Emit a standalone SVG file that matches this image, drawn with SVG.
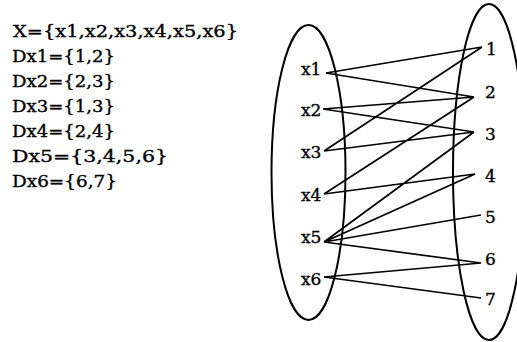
<svg xmlns="http://www.w3.org/2000/svg" width="517" height="342" viewBox="0 0 517 342">
<style>
text{font-family:"DejaVu Serif","Liberation Serif",serif;font-size:17px;fill:#000;stroke:#000;stroke-width:0.35}
.set{fill:none;stroke:#000;stroke-width:2}
.e{stroke:#000;stroke-width:1.7;fill:none}
</style>
<rect width="517" height="342" fill="#fff"/>
<g id="defs-text">
<text x="13" y="37" textLength="225" lengthAdjust="spacingAndGlyphs">X={x1,x2,x3,x4,x5,x6}</text>
<text x="12" y="62" textLength="103" lengthAdjust="spacingAndGlyphs">Dx1={1,2}</text>
<text x="12" y="87" textLength="103" lengthAdjust="spacingAndGlyphs">Dx2={2,3}</text>
<text x="12" y="112" textLength="103" lengthAdjust="spacingAndGlyphs">Dx3={1,3}</text>
<text x="12" y="137" textLength="103" lengthAdjust="spacingAndGlyphs">Dx4={2,4}</text>
<text x="12" y="162" textLength="156" lengthAdjust="spacingAndGlyphs">Dx5={3,4,5,6}</text>
<text x="12" y="187" textLength="105" lengthAdjust="spacingAndGlyphs">Dx6={6,7}</text>
</g>
<g id="setX"><ellipse class="set" cx="308.5" cy="172.5" rx="37" ry="147.5"/></g>
<g id="setD"><ellipse class="set" cx="489" cy="172" rx="36" ry="168"/></g>
<g id="connectors">
<path class="e" d="M326,73L482,47M326,73L474,97M323,109L474,97M323,109L474,132M324,151L482,47M324,151L474,132M324,194L474,97M324,194L475,174M324,242L474,132M324,242L475,174M324,242L481,215M324,242L481,263M324,277L481,263M324,277L481,298"/>
</g>
<g id="x1"><text x="301" y="75">x1</text></g>
<g id="x2"><text x="301" y="116">x2</text></g>
<g id="x3"><text x="301" y="158">x3</text></g>
<g id="x4"><text x="301" y="201">x4</text></g>
<g id="x5"><text x="301" y="243">x5</text></g>
<g id="x6"><text x="301" y="285">x6</text></g>
<g id="n1"><text x="486" y="55">1</text></g>
<g id="n2"><text x="485" y="98">2</text></g>
<g id="n3"><text x="485" y="140">3</text></g>
<g id="n4"><text x="485" y="182">4</text></g>
<g id="n5"><text x="485" y="223">5</text></g>
<g id="n6"><text x="485" y="265">6</text></g>
<g id="n7"><text x="485" y="305">7</text></g>
</svg>
